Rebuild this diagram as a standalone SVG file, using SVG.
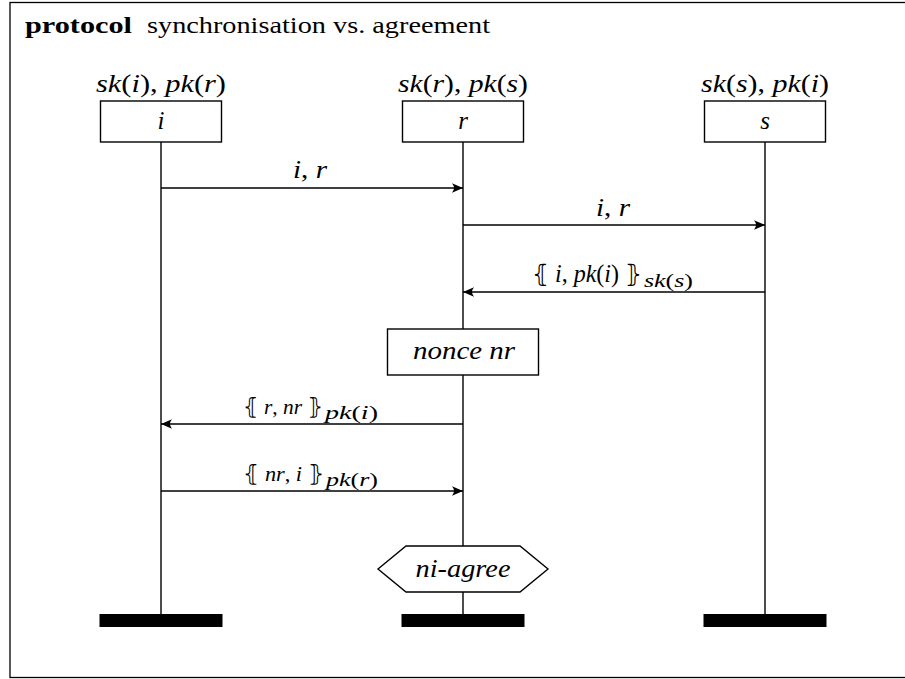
<svg xmlns="http://www.w3.org/2000/svg" width="905" height="679" viewBox="0 0 905 679">
<style>
  .frame { fill: none; stroke: #000; stroke-width: 1.3; }
  .box { fill: #fff; stroke: #000; stroke-width: 1.4; }
  .life { stroke: #000; stroke-width: 1.4; fill: none; }
  .msg { stroke: #000; stroke-width: 1.4; fill: none; }
  .bar { fill: #000; }
  .m { font-style: italic; font-size: 25px; }
  .up { font-style: normal; }
  .sub { font-style: italic; font-size: 18px; }
  .br { font-style: normal; font-size: 24px; }
  .m2 { font-style: italic; font-size: 22px; }
  .br2 { font-style: normal; font-size: 22px; }
</style>
<defs>
  <marker id="ah" markerUnits="userSpaceOnUse" markerWidth="14" markerHeight="12" refX="12" refY="6" orient="auto">
    <path d="M12,6 L1,1.2 Q5,6 1,10.8 Z" fill="#000"/>
  </marker>
</defs>
<rect class="frame" x="10" y="2.5" width="900" height="675"/>
<g id="title" font-family="'Liberation Serif', 'Times New Roman', serif" font-size="23">
  <text x="25" y="33"><tspan font-weight="bold" textLength="107" lengthAdjust="spacingAndGlyphs">protocol</tspan><tspan x="147" textLength="343" lengthAdjust="spacingAndGlyphs">synchronisation vs. agreement</tspan></text>
</g>
<g id="lifelines">
  <line class="life" x1="161" y1="142" x2="161" y2="614"/>
  <line class="life" x1="463" y1="142" x2="463" y2="614"/>
  <line class="life" x1="765" y1="142" x2="765" y2="614"/>
</g>
<g id="node-i" font-family="'Liberation Serif', 'Times New Roman', serif">
  <text class="m" x="161" y="92" text-anchor="middle" textLength="130" lengthAdjust="spacingAndGlyphs">sk<tspan class="up">(</tspan>i<tspan class="up">)</tspan><tspan class="up">, </tspan>pk<tspan class="up">(</tspan>r<tspan class="up">)</tspan></text>
  <rect class="box" x="100.5" y="101" width="121" height="41"/>
  <text class="m" x="161" y="129" text-anchor="middle">i</text>
  <rect class="bar" x="99.5" y="614" width="123" height="13"/>
</g>
<g id="node-r" font-family="'Liberation Serif', 'Times New Roman', serif">
  <text class="m" x="463" y="92" text-anchor="middle" textLength="130" lengthAdjust="spacingAndGlyphs">sk<tspan class="up">(</tspan>r<tspan class="up">)</tspan><tspan class="up">, </tspan>pk<tspan class="up">(</tspan>s<tspan class="up">)</tspan></text>
  <rect class="box" x="402.5" y="101" width="121" height="41"/>
  <text class="m" x="463" y="129" text-anchor="middle">r</text>
  <rect class="bar" x="401.5" y="614" width="123" height="13"/>
</g>
<g id="node-s" font-family="'Liberation Serif', 'Times New Roman', serif">
  <text class="m" x="765" y="92" text-anchor="middle" textLength="128" lengthAdjust="spacingAndGlyphs">sk<tspan class="up">(</tspan>s<tspan class="up">)</tspan><tspan class="up">, </tspan>pk<tspan class="up">(</tspan>i<tspan class="up">)</tspan></text>
  <rect class="box" x="704.5" y="101" width="121" height="41"/>
  <text class="m" x="765" y="129" text-anchor="middle">s</text>
  <rect class="bar" x="703.5" y="614" width="123" height="13"/>
</g>
<g id="connectors">
  <line class="msg" x1="161" y1="188" x2="463" y2="188" marker-end="url(#ah)"/>
  <line class="msg" x1="463" y1="225" x2="765" y2="225" marker-end="url(#ah)"/>
  <line class="msg" x1="765" y1="292" x2="463" y2="292" marker-end="url(#ah)"/>
  <line class="msg" x1="463" y1="424" x2="161" y2="424" marker-end="url(#ah)"/>
  <line class="msg" x1="161" y1="491" x2="463" y2="491" marker-end="url(#ah)"/>
</g>
<g id="labels" font-family="'Liberation Serif', 'Times New Roman', serif">
  <text class="m" x="310" y="178" text-anchor="middle" textLength="34" lengthAdjust="spacingAndGlyphs">i<tspan class="up">, </tspan>r</text>
  <text class="m" x="613" y="216" text-anchor="middle" textLength="34" lengthAdjust="spacingAndGlyphs">i<tspan class="up">, </tspan>r</text>
  <text class="m" x="532" y="282"><tspan textLength="110" lengthAdjust="spacingAndGlyphs"><tspan class="br" font-family="'DejaVu Sans', sans-serif">⦃</tspan> i<tspan class="up">, </tspan>pk<tspan class="up">(</tspan>i<tspan class="up">)</tspan> <tspan class="br" font-family="'DejaVu Sans', sans-serif">⦄</tspan></tspan><tspan class="sub" x="644" dy="5" textLength="49" lengthAdjust="spacingAndGlyphs">sk<tspan class="up">(</tspan>s<tspan class="up">)</tspan></tspan></text>
  <text class="m2" x="243" y="414"><tspan textLength="80" lengthAdjust="spacingAndGlyphs"><tspan class="br2" font-family="'DejaVu Sans', sans-serif">⦃</tspan> r<tspan class="up">, </tspan>nr <tspan class="br2" font-family="'DejaVu Sans', sans-serif">⦄</tspan></tspan><tspan class="sub" x="325" dy="5" textLength="53" lengthAdjust="spacingAndGlyphs">pk<tspan class="up">(</tspan>i<tspan class="up">)</tspan></tspan></text>
  <text class="m2" x="243" y="481"><tspan textLength="81" lengthAdjust="spacingAndGlyphs"><tspan class="br2" font-family="'DejaVu Sans', sans-serif">⦃</tspan> nr<tspan class="up">, </tspan>i <tspan class="br2" font-family="'DejaVu Sans', sans-serif">⦄</tspan></tspan><tspan class="sub" x="326" dy="5" textLength="52" lengthAdjust="spacingAndGlyphs">pk<tspan class="up">(</tspan>r<tspan class="up">)</tspan></tspan></text>
</g>
<g id="action-nonce" font-family="'Liberation Serif', 'Times New Roman', serif">
  <rect class="box" x="387.5" y="329" width="151" height="46"/>
  <text class="m" x="464" y="359" text-anchor="middle" textLength="102" lengthAdjust="spacingAndGlyphs">nonce nr</text>
</g>
<g id="condition-ni-agree" font-family="'Liberation Serif', 'Times New Roman', serif">
  <polygon class="box" points="378,569 406,546 520,546 548,569 520,592 406,592"/>
  <text class="m" x="463" y="577" text-anchor="middle" textLength="95" lengthAdjust="spacingAndGlyphs">ni-agree</text>
</g>
</svg>
